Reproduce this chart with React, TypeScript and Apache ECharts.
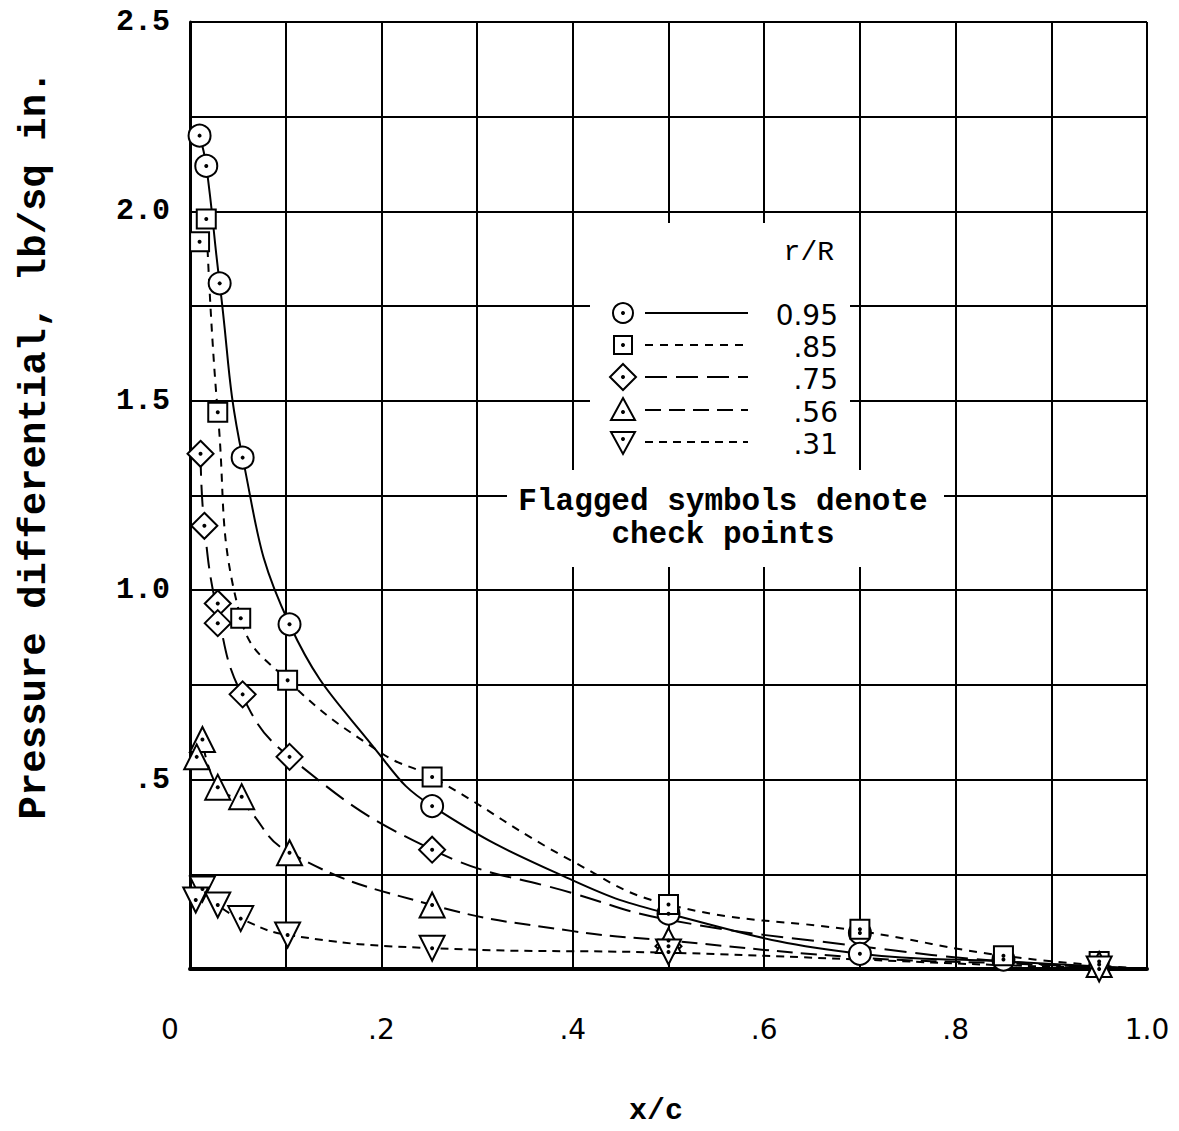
import React, { useEffect, useRef } from "react";
import * as echarts from "echarts";

// ---- data: markers (x/c, pressure differential) ----
const circles95: number[][] = [
  [0.010, 2.20], [0.017, 2.12], [0.031, 1.81], [0.055, 1.35], [0.104, 0.91],
  [0.253, 0.43], [0.5, 0.146], [0.7, 0.095], [0.7, 0.04], [0.85, 0.025],
];
const squares85: number[][] = [
  [0.010, 1.92], [0.017, 1.98], [0.029, 1.47], [0.053, 0.926], [0.102, 0.762],
  [0.253, 0.507], [0.5, 0.17], [0.7, 0.105], [0.85, 0.035], [0.95, 0.02],
];
const diamonds75: number[][] = [
  [0.011, 1.36], [0.015, 1.17], [0.029, 0.965], [0.029, 0.913], [0.055, 0.725],
  [0.104, 0.56], [0.253, 0.315], [0.5, 0.06],
];
const triangles56: number[][] = [
  [0.013, 0.606], [0.007, 0.56], [0.029, 0.48], [0.054, 0.455], [0.104, 0.307],
  [0.253, 0.169], [0.5, 0.075], [0.95, 0.012],
];
const invTriangles31: number[][] = [
  [0.013, 0.211], [0.006, 0.182], [0.029, 0.169], [0.053, 0.133], [0.102, 0.09],
  [0.253, 0.055], [0.5, 0.045], [0.95, 0.0],
];

// ---- faired curves ----
const curve95: number[][] = [
  [0.010, 2.20], [0.017, 2.12], [0.031, 1.81], [0.055, 1.35], [0.104, 0.91],
  [0.2, 0.56], [0.253, 0.43], [0.4, 0.234], [0.5, 0.146], [0.7, 0.04],
  [0.85, 0.02], [1.0, 0],
];
const curve85: number[][] = [
  [0.017, 1.98], [0.029, 1.47], [0.053, 0.926], [0.102, 0.762],
  [0.2, 0.57], [0.253, 0.507], [0.4, 0.284], [0.5, 0.17], [0.7, 0.10],
  [0.85, 0.035], [1.0, 0],
];
const curve75: number[][] = [
  [0.011, 1.36], [0.015, 1.17], [0.029, 0.94], [0.055, 0.72], [0.104, 0.56],
  [0.253, 0.315], [0.4, 0.20], [0.5, 0.13], [0.7, 0.06], [0.85, 0.02], [1.0, 0],
];
const curve56: number[][] = [
  [0.013, 0.60], [0.029, 0.48], [0.054, 0.44], [0.104, 0.307],
  [0.253, 0.169], [0.4, 0.10], [0.5, 0.075], [0.7, 0.03], [0.85, 0.015], [1.0, 0],
];
const curve31: number[][] = [
  [0.013, 0.21], [0.029, 0.169], [0.053, 0.133], [0.102, 0.09],
  [0.253, 0.055], [0.5, 0.043], [0.7, 0.025], [0.85, 0.01], [1.0, 0],
];

// ---- labels ----
const seriesNames = ["0.95", ".85", ".75", ".56", ".31"];
const xTickValues = [0, 2, 4, 6, 8, 10];
const xTickLabels = ["0", ".2", ".4", ".6", ".8", "1.0"];
const yTickValues = [0.5, 1.0, 1.5, 2.0, 2.5];
const yTickLabels = [".5", "1.0", "1.5", "2.0", "2.5"];
const xTitle = "x/c";
const yTitle = "Pressure differential, lb/sq in.";
const legendTitle = "r/R";
const noteLines = ["Flagged symbols denote", "check points"];

const TYPE = "'Liberation Mono', 'DejaVu Sans Mono', monospace";
const LETTER = "'DejaVu Sans', 'Noto Sans', sans-serif";

export default function App() {
  const ref = useRef<HTMLDivElement>(null);
  useEffect(() => {
    if (!ref.current) return;
    const chart = echarts.init(ref.current, undefined, { renderer: "svg" });

    const markerSets = [circles95, squares85, diamonds75, triangles56, invTriangles31];
    const curves = [curve95, curve85, curve75, curve56, curve31];
    const symbols = ["circle", "rect", "diamond", "triangle", "triangle"];
    const sizes = [22, 19, 26, 25, 25];
    const rotates = [0, 0, 0, 0, 180];
    const dashes: any[] = ["solid", [8, 7], [22, 9], [16, 8], [8, 6]];

    const series: any[] = [];
    curves.forEach((c, i) => {
      series.push({
        type: "line",
        name: seriesNames[i] + " curve",
        data: c,
        smooth: 0.45,
        showSymbol: false,
        symbol: "none",
        lineStyle: { color: "#000", width: 2, type: dashes[i] },
        z: 2,
        silent: true,
      });
    });
    markerSets.forEach((m, i) => {
      series.push({
        type: "scatter",
        name: seriesNames[i],
        data: m,
        symbol: symbols[i],
        symbolSize: sizes[i],
        symbolRotate: rotates[i],
        itemStyle: { color: "#fff", borderColor: "#000", borderWidth: 2, opacity: 1 },
        z: 3,
      });
    });
    series.push({
      type: "scatter",
      name: "centers",
      data: markerSets.flat(),
      symbol: "circle",
      symbolSize: 4,
      itemStyle: { color: "#000", opacity: 1 },
      z: 4,
    });

    // legend graphics
    const rowsY = [313, 345, 377, 410, 442];
    const sx = 623;
    const g: any[] = [
      { type: "rect", shape: { x: 590, y: 223, width: 260, height: 250 }, style: { fill: "#fff" }, z: 50 },
      { type: "rect", shape: { x: 507, y: 470, width: 437, height: 97 }, style: { fill: "#fff" }, z: 50 },
      {
        type: "text", x: 834, y: 252, z: 60,
        style: { text: legendTitle, font: `28px ${TYPE}`, fill: "#000", textAlign: "right", textVerticalAlign: "middle" },
      },
    ];
    const stroke = { stroke: "#000", lineWidth: 2, fill: "#fff" };
    g.push({ type: "circle", shape: { cx: sx, cy: rowsY[0], r: 10 }, style: stroke, z: 60 });
    g.push({ type: "rect", shape: { x: sx - 9, y: rowsY[1] - 9, width: 18, height: 18 }, style: stroke, z: 60 });
    g.push({
      type: "polygon", z: 60, style: stroke,
      shape: { points: [[sx, rowsY[2] - 13], [sx + 13, rowsY[2]], [sx, rowsY[2] + 13], [sx - 13, rowsY[2]]] },
    });
    g.push({
      type: "polygon", z: 60, style: stroke,
      shape: { points: [[sx, rowsY[3] - 12], [sx + 12, rowsY[3] + 10], [sx - 12, rowsY[3] + 10]] },
    });
    g.push({
      type: "polygon", z: 60, style: stroke,
      shape: { points: [[sx - 12, rowsY[4] - 10], [sx + 12, rowsY[4] - 10], [sx, rowsY[4] + 12]] },
    });
    rowsY.forEach((y, i) => {
      g.push({ type: "circle", shape: { cx: sx, cy: i === 3 ? y + 2 : i === 4 ? y - 3 : y, r: 2 }, style: { fill: "#000" }, z: 61 });
      g.push({
        type: "line", z: 60,
        shape: { x1: 645, y1: y, x2: 748, y2: y },
        style: { stroke: "#000", lineWidth: 2, lineDash: dashes[i] === "solid" ? null : dashes[i] },
      });
      g.push({
        type: "text", x: 838, y: y + 2, z: 60,
        style: { text: seriesNames[i], font: `28px ${LETTER}`, fill: "#000", textAlign: "right", textVerticalAlign: "middle" },
      });
    });
    noteLines.forEach((t, i) => {
      g.push({
        type: "text", x: 723, y: 501 + i * 33, z: 60,
        style: { text: t, font: `bold 31px ${TYPE}`, fill: "#000", textAlign: "center", textVerticalAlign: "middle" },
      });
    });
    g.push({
      type: "text", x: 35, y: 445, rotation: Math.PI / 2, z: 60,
      style: { text: yTitle, font: `bold 39px ${TYPE}`, fill: "#000", textAlign: "center", textVerticalAlign: "middle" },
    });

    chart.setOption({
      animation: false,
      backgroundColor: "#fff",
      grid: { left: 190, right: 32, top: 22, bottom: 148, containLabel: false },
      xAxis: {
        type: "value",
        min: 0,
        max: 1,
        interval: 0.1,
        name: xTitle,
        nameLocation: "middle",
        nameGap: 127,
        nameTextStyle: { fontFamily: TYPE, fontSize: 30, fontWeight: "bold", color: "#000", padding: [0, 25, 0, 0] },
        axisLine: { show: true, lineStyle: { color: "#000", width: 4 } },
        axisTick: { show: false },
        splitLine: { show: true, lineStyle: { color: "#000", width: 2 } },
        axisLabel: {
          margin: 46,
          color: "#000",
          fontFamily: LETTER,
          fontSize: 28,
          showMinLabel: true,
          showMaxLabel: true,
          formatter: (v: number) => {
            const k = Math.round(v * 10);
            const idx = xTickValues.indexOf(k);
            if (idx < 0) return "";
            if (k === 0) return "{z|" + xTickLabels[idx] + "}";
            return xTickLabels[idx];
          },
          rich: { z: { fontFamily: LETTER, fontSize: 28, color: "#000", padding: [0, 40, 0, 0] } },
        },
      },
      yAxis: {
        type: "value",
        min: 0,
        max: 2.5,
        interval: 0.25,
        axisLine: { show: true, lineStyle: { color: "#000", width: 3 } },
        axisTick: { show: false },
        splitLine: { show: true, lineStyle: { color: "#000", width: 2 } },
        axisLabel: {
          margin: 20,
          color: "#000",
          fontFamily: TYPE,
          fontWeight: "bold",
          fontSize: 30,
          formatter: (v: number) => {
            const idx = yTickValues.findIndex((t) => Math.abs(t - v) < 1e-6);
            return idx < 0 ? "" : yTickLabels[idx];
          },
        },
      },
      graphic: { elements: g },
      series,
    });
    return () => chart.dispose();
  }, []);
  return (
    <div
      ref={ref}
      style={{ position: "absolute", left: 0, top: 0, width: 1179, height: 1131, background: "#fff" }}
    />
  );
}
